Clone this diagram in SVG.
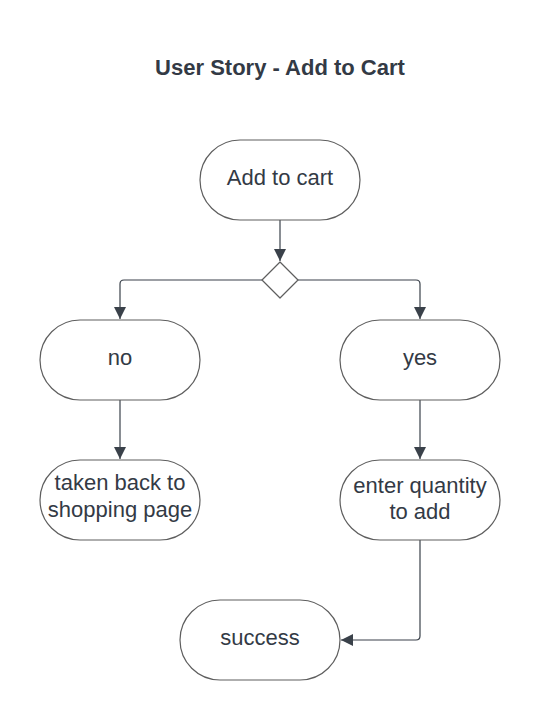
<svg xmlns="http://www.w3.org/2000/svg" width="540" height="720" viewBox="0 0 540 720">
<defs>
<style>
.node{fill:#ffffff;stroke:#5e5e5e;stroke-width:1.2}
.lbl{font-family:"Liberation Sans",Arial,sans-serif;font-size:22px;fill:#333a45;text-anchor:middle}
.title{font-family:"Liberation Sans",Arial,sans-serif;font-size:22px;font-weight:bold;fill:#333a45;text-anchor:middle}
.edge{fill:none;stroke:#3a414a;stroke-width:1.2}
</style>
<marker id="arr" viewBox="0 0 10 10" refX="10" refY="5" markerWidth="12" markerHeight="14" markerUnits="userSpaceOnUse" orient="auto">
<path d="M0,0 L10,5 L0,10 Z" fill="#3a414a"/>
</marker>
</defs>
<rect width="540" height="720" fill="#ffffff"/>
<text class="title" x="280" y="75">User Story - Add to Cart</text>
<g id="connectors">
<path class="edge" d="M280,220 V261" marker-end="url(#arr)"/>
<path class="edge" d="M262,280 H124 Q120,280 120,284 V319" marker-end="url(#arr)"/>
<path class="edge" d="M298,280 H416 Q420,280 420,284 V319" marker-end="url(#arr)"/>
<path class="edge" d="M120,400 V459" marker-end="url(#arr)"/>
<path class="edge" d="M420,400 V459" marker-end="url(#arr)"/>
<path class="edge" d="M420,540 V636 Q420,640 416,640 H341" marker-end="url(#arr)"/>
</g>
<g id="add-to-cart">
<rect class="node" x="200" y="140" width="160" height="80" rx="40"/>
<text class="lbl" x="280" y="185">Add to cart</text>
</g>
<g id="decision">
<path class="node" d="M280,262 L298,280 L280,298 L262,280 Z" stroke-linejoin="round"/>
</g>
<g id="no">
<rect class="node" x="40" y="320" width="160" height="80" rx="40"/>
<text class="lbl" x="120" y="365">no</text>
</g>
<g id="yes">
<rect class="node" x="340" y="320" width="160" height="80" rx="40"/>
<text class="lbl" x="420" y="365">yes</text>
</g>
<g id="taken-back">
<rect class="node" x="40" y="460" width="160" height="80" rx="40"/>
<text class="lbl" x="120" y="490">taken back to</text>
<text class="lbl" x="120" y="517">shopping page</text>
</g>
<g id="enter-quantity">
<rect class="node" x="340" y="460" width="160" height="80" rx="40"/>
<text class="lbl" x="420" y="493">enter quantity</text>
<text class="lbl" x="420" y="519">to add</text>
</g>
<g id="success">
<rect class="node" x="180" y="600" width="160" height="80" rx="40"/>
<text class="lbl" x="260" y="645">success</text>
</g>
</svg>
